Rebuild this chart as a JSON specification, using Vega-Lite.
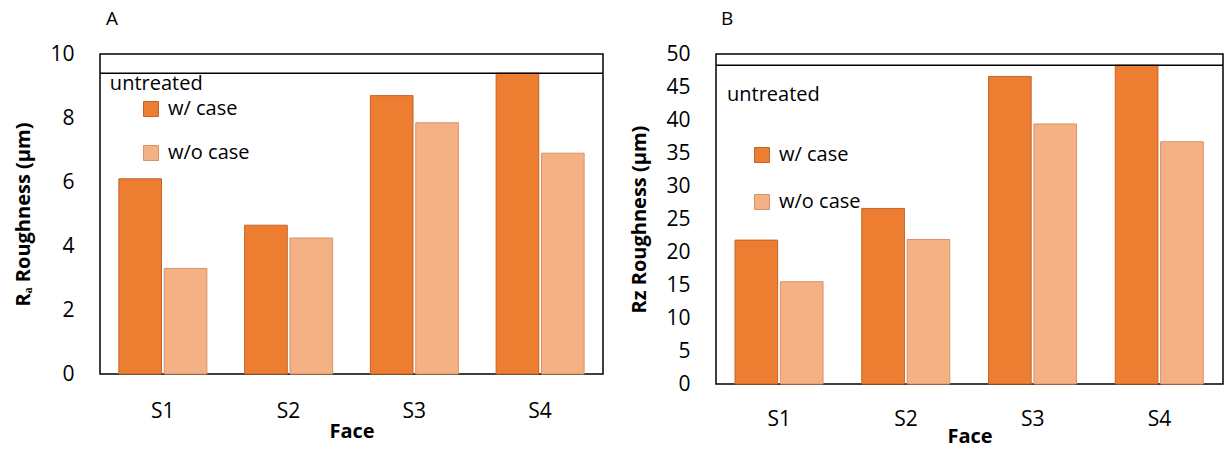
{
  "$schema": "https://vega.github.io/schema/vega-lite/v6.json",
  "padding": {"left": 13, "top": 9, "right": 5, "bottom": 0},
  "background": "white",
  "datasets": {
    "bars": [
      {"panel": "A", "Face": "S1", "Case": "w/ case", "value": 6.1},
      {"panel": "A", "Face": "S1", "Case": "w/o case", "value": 3.3},
      {"panel": "A", "Face": "S2", "Case": "w/ case", "value": 4.65},
      {"panel": "A", "Face": "S2", "Case": "w/o case", "value": 4.25},
      {"panel": "A", "Face": "S3", "Case": "w/ case", "value": 8.7},
      {"panel": "A", "Face": "S3", "Case": "w/o case", "value": 7.85},
      {"panel": "A", "Face": "S4", "Case": "w/ case", "value": 9.4},
      {"panel": "A", "Face": "S4", "Case": "w/o case", "value": 6.9},
      {"panel": "B", "Face": "S1", "Case": "w/ case", "value": 21.8},
      {"panel": "B", "Face": "S1", "Case": "w/o case", "value": 15.5},
      {"panel": "B", "Face": "S2", "Case": "w/ case", "value": 26.6},
      {"panel": "B", "Face": "S2", "Case": "w/o case", "value": 21.9},
      {"panel": "B", "Face": "S3", "Case": "w/ case", "value": 46.6},
      {"panel": "B", "Face": "S3", "Case": "w/o case", "value": 39.4},
      {"panel": "B", "Face": "S4", "Case": "w/ case", "value": 48.3},
      {"panel": "B", "Face": "S4", "Case": "w/o case", "value": 36.7}
    ],
    "untreated": [
      {"panel": "A", "Face": "S1", "value": 9.4, "label": "untreated"},
      {"panel": "B", "Face": "S1", "value": 48.3, "label": "untreated"}
    ]
  },
  "hconcat": [
    {
      "width": 503,
      "height": 320,
      "title": {"text": "A", "anchor": "start", "frame": "group", "dx": 6, "fontSize": 19, "fontWeight": "normal", "font": "Open Sans", "offset": 14},
      "layer": [
        {
          "data": {"name": "bars"},
          "transform": [{"filter": "datum.panel === 'A'"}],
          "mark": {"type": "bar", "strokeWidth": 1},
          "encoding": {
            "x": {"field": "Face", "type": "nominal", "title": "Face", "scale": {"paddingInner": 0.3, "paddingOuter": 0.15}},
            "xOffset": {"field": "Case", "type": "nominal", "scale": {"paddingInner": 0.06}},
            "y": {"field": "value", "type": "quantitative", "title": "Rₐ  Roughness (μm)", "scale": {"domain": [0, 10], "nice": false}, "axis": {"values": [0, 2, 4, 6, 8, 10], "labelOverlap": false}},
            "fill": {"field": "Case", "type": "nominal", "scale": {"domain": ["w/ case", "w/o case"], "range": ["#ED7D31", "#F4B183"]},
              "legend": {"title": null, "orient": "none", "legendX": 41, "legendY": 45, "rowPadding": 24, "symbolType": "square", "symbolSize": 225, "symbolStrokeColor": "#C0652A", "symbolStrokeWidth": 1, "labelFontSize": 20, "labelOffset": 7, "labelFont": "Open Sans", "padding": 0}},
            "stroke": {"field": "Case", "type": "nominal", "scale": {"domain": ["w/ case", "w/o case"], "range": ["#C0652A", "#D9916A"]}, "legend": null}
          }
        },
        {
          "data": {"name": "untreated"},
          "transform": [{"filter": "datum.panel === 'A'"}],
          "mark": {"type": "rule", "color": "black", "strokeWidth": 1.5},
          "encoding": {"y": {"field": "value", "type": "quantitative", "title": "Rₐ  Roughness (μm)", "scale": {"domain": [0, 10], "nice": false}, "axis": {"values": [0, 2, 4, 6, 8, 10], "labelOverlap": false}}}
        },
        {
          "data": {"name": "untreated"},
          "transform": [{"filter": "datum.panel === 'A'"}],
          "mark": {"type": "text", "align": "left", "baseline": "top", "dx": -9, "dy": 1, "fontSize": 20, "font": "Open Sans", "color": "black"},
          "encoding": {
            "x": {"field": "Face", "type": "nominal", "title": "Face", "bandPosition": 0},
            "y": {"field": "value", "type": "quantitative", "title": "Rₐ  Roughness (μm)", "scale": {"domain": [0, 10], "nice": false}, "axis": {"values": [0, 2, 4, 6, 8, 10], "labelOverlap": false}},
            "text": {"field": "label"}
          }
        }
      ],
      "resolve": {"scale": {"fill": "independent", "stroke": "independent"}}
    },
    {
      "width": 507,
      "height": 330,
      "title": {"text": "B", "anchor": "start", "frame": "group", "dx": 5, "fontSize": 19, "fontWeight": "normal", "font": "Open Sans", "offset": 14},
      "layer": [
        {
          "data": {"name": "bars"},
          "transform": [{"filter": "datum.panel === 'B'"}],
          "mark": {"type": "bar", "strokeWidth": 1},
          "encoding": {
            "x": {"field": "Face", "type": "nominal", "title": "Face", "scale": {"paddingInner": 0.3, "paddingOuter": 0.15}, "axis": {"labelPadding": 24, "titlePadding": -3}},
            "xOffset": {"field": "Case", "type": "nominal", "scale": {"paddingInner": 0.06}},
            "y": {"field": "value", "type": "quantitative", "title": "Rz Roughness (μm)", "scale": {"domain": [0, 50], "nice": false}, "axis": {"values": [0, 5, 10, 15, 20, 25, 30, 35, 40, 45, 50], "labelOverlap": false}},
            "fill": {"field": "Case", "type": "nominal", "scale": {"domain": ["w/ case", "w/o case"], "range": ["#ED7D31", "#F4B183"]},
              "legend": {"title": null, "orient": "none", "legendX": 36, "legendY": 91, "rowPadding": 27, "symbolType": "square", "symbolSize": 225, "symbolStrokeColor": "#C0652A", "symbolStrokeWidth": 1, "labelFontSize": 20, "labelOffset": 7, "labelFont": "Open Sans", "padding": 0}},
            "stroke": {"field": "Case", "type": "nominal", "scale": {"domain": ["w/ case", "w/o case"], "range": ["#C0652A", "#D9916A"]}, "legend": null}
          }
        },
        {
          "data": {"name": "untreated"},
          "transform": [{"filter": "datum.panel === 'B'"}],
          "mark": {"type": "rule", "color": "black", "strokeWidth": 1.5},
          "encoding": {"y": {"field": "value", "type": "quantitative", "title": "Rz Roughness (μm)", "scale": {"domain": [0, 50], "nice": false}, "axis": {"values": [0, 5, 10, 15, 20, 25, 30, 35, 40, 45, 50], "labelOverlap": false}}}
        },
        {
          "data": {"name": "untreated"},
          "transform": [{"filter": "datum.panel === 'B'"}],
          "mark": {"type": "text", "align": "left", "baseline": "top", "dx": -8, "dy": 20, "fontSize": 20, "font": "Open Sans", "color": "black"},
          "encoding": {
            "x": {"field": "Face", "type": "nominal", "title": "Face", "bandPosition": 0, "axis": {"labelPadding": 24, "titlePadding": -3}},
            "y": {"field": "value", "type": "quantitative", "title": "Rz Roughness (μm)", "scale": {"domain": [0, 50], "nice": false}, "axis": {"values": [0, 5, 10, 15, 20, 25, 30, 35, 40, 45, 50], "labelOverlap": false}},
            "text": {"field": "label"}
          }
        }
      ],
      "resolve": {"scale": {"fill": "independent", "stroke": "independent"}}
    }
  ],
  "spacing": 24,
  "resolve": {"scale": {"fill": "independent", "stroke": "independent", "y": "independent"}, "legend": {"fill": "independent", "stroke": "independent"}},
  "config": {
    "view": {"stroke": "black", "strokeWidth": 1.5},
    "font": "Open Sans",
    "axis": {"domain": false, "ticks": false, "grid": false, "labelFont": "Open Sans", "labelFontSize": 21, "labelColor": "black", "labelOverlap": false, "titleFont": "Open Sans", "titleFontSize": 20, "titleFontWeight": "bold", "titleColor": "black"},
    "axisY": {"labelPadding": 26, "titlePadding": 16},
    "axisX": {"labelPadding": 26, "titlePadding": 0, "labelAngle": 0}
  }
}
